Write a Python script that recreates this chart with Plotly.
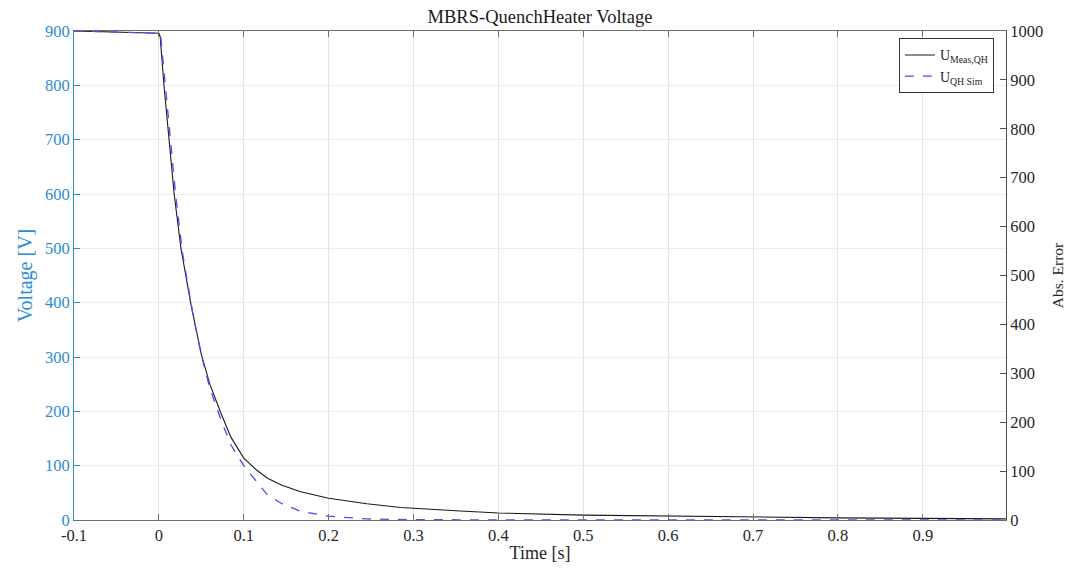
import plotly.graph_objects as go

# Measured quench-heater voltage
t_meas = [-0.1, 0.0, 0.0015, 0.006, 0.012, 0.018, 0.026, 0.038, 0.05, 0.06, 0.073,
          0.085, 0.1, 0.115, 0.128, 0.145, 0.167, 0.2, 0.245, 0.285, 0.35, 0.4,
          0.5, 0.6, 0.7, 0.8, 0.9, 0.998]
u_meas = [900, 896, 890, 800, 700, 600, 500, 395, 305, 250, 197,
          152, 114, 92, 77, 64, 52, 40, 30, 23, 17, 13,
          9, 7, 5, 4, 3, 2]

# Simulated quench-heater voltage
t_sim = [-0.1, 0.0, 0.002, 0.008, 0.014, 0.02, 0.028, 0.04, 0.05, 0.06, 0.073,
         0.085, 0.1, 0.115, 0.128, 0.145, 0.167, 0.2, 0.245, 0.3, 0.4, 0.6, 0.8, 0.998]
u_sim = [900, 896, 893, 790, 690, 595, 490, 380, 303, 243, 185,
         138, 100, 70, 46, 30, 16, 7, 2, 0.5, 0, 0, 0, 0]

x_ticks = [-0.1, 0, 0.1, 0.2, 0.3, 0.4, 0.5, 0.6, 0.7, 0.8, 0.9]
x_tick_text = ["-0.1", "0", "0.1", "0.2", "0.3", "0.4", "0.5", "0.6", "0.7", "0.8", "0.9"]

FONT = "Liberation Serif"
LEFT_BLUE = "#2b8cd2"
TXT = "#262626"

fig = go.Figure()
fig.add_trace(go.Scatter(
    x=t_meas, y=u_meas, mode="lines", name="U<sub>Meas,QH</sub>",
    line=dict(color="#1a1a1a", width=1.1)))
fig.add_trace(go.Scatter(
    x=t_sim, y=u_sim, mode="lines", name="U<sub>QH Sim</sub>",
    line=dict(color="#4b4bff", width=1.3, dash="dash")))
# Right-hand axis (absolute error scale)
fig.add_trace(go.Scatter(x=[None], y=[None], yaxis="y2", showlegend=False,
                         hoverinfo="skip"))

fig.update_layout(
    width=1080, height=571,
    paper_bgcolor="white", plot_bgcolor="white",
    margin=dict(l=74, r=74, t=31, b=48),
    font=dict(family=FONT, color=TXT, size=16),
    title=dict(text="MBRS-QuenchHeater Voltage", x=0.5, xanchor="center",
               y=0.982, yanchor="top", font=dict(size=18.5, color="#1a1a1a")),
    xaxis=dict(
        range=[-0.1, 0.998], tickvals=x_ticks, ticktext=x_tick_text,
        showgrid=True, gridcolor="#e6e6e6", gridwidth=1,
        showline=True, linecolor="#6e6e6e", linewidth=1, mirror="ticks",
        ticks="inside", ticklen=6, tickcolor="#6e6e6e",
        zeroline=False, tickfont=dict(size=16.5, color=TXT),
        title=dict(text="Time [s]", font=dict(size=18, color=TXT), standoff=2)),
    yaxis=dict(
        range=[0, 900], dtick=100,
        showgrid=True, gridcolor="#e4eef8", gridwidth=1,
        showline=True, linecolor=LEFT_BLUE, linewidth=1,
        ticks="inside", ticklen=6, tickcolor=LEFT_BLUE,
        zeroline=False, tickfont=dict(size=16.5, color=LEFT_BLUE),
        title=dict(text="Voltage [V]", font=dict(size=20, color=LEFT_BLUE), standoff=6)),
    yaxis2=dict(
        range=[0, 1000], dtick=100, overlaying="y", side="right", anchor="x",
        showgrid=False, showline=True, linecolor="#4d4d4d", linewidth=1,
        ticks="inside", ticklen=6, tickcolor="#4d4d4d",
        zeroline=False, tickfont=dict(size=16.5, color=TXT),
        title=dict(text="Abs. Error", font=dict(size=15.5, color=TXT), standoff=9)),
    legend=dict(
        x=0.987, y=0.985, xanchor="right", yanchor="top",
        bgcolor="white", bordercolor="#333333", borderwidth=1,
        font=dict(family=FONT, size=14, color=TXT),
        tracegroupgap=0, itemwidth=30),
    showlegend=True,
)

fig.write_html("out.html")
